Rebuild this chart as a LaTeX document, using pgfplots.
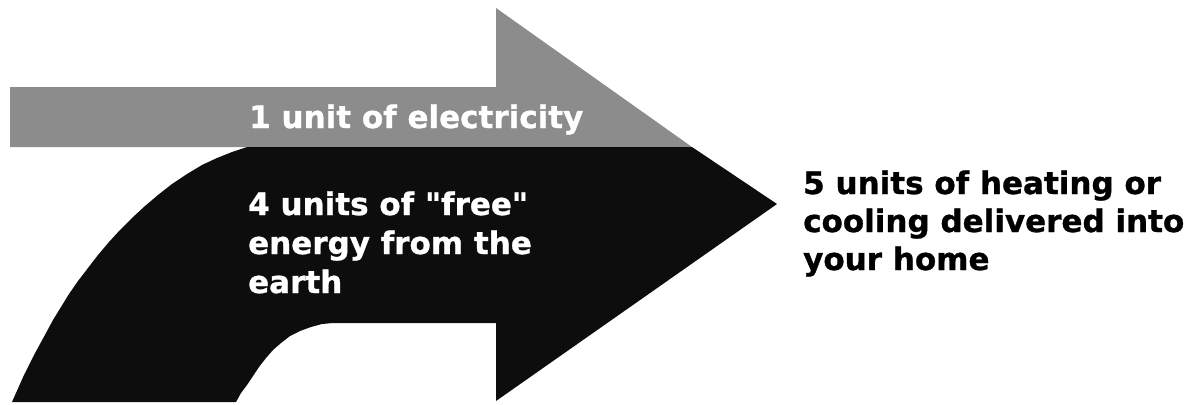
\documentclass[border=0pt]{standalone}
\usepackage{pgfplots}
\pgfplotsset{compat=1.18}
\usepackage{fontspec}
\setmainfont{DejaVu Sans}[BoldFeatures={FakeBold=1}]
\definecolor{arrowgray}{RGB}{140,140,140}
\definecolor{arrowblack}{RGB}{13,13,13}
\begin{document}
\begin{tikzpicture}
\begin{axis}[
  name=ax,
  width=1191bp, height=404bp, scale only axis,
  xmin=0, xmax=1191, ymin=0, ymax=404,
  y dir=reverse,
  hide axis,
]
% grey arrow (1 unit of electricity)
\addplot[fill=arrowgray, draw=none] coordinates {
  (10,87) (496,87) (496,8) (692,147) (10,147)
} -- cycle;
% black curved arrow (4 units from the earth)
\addplot[fill=arrowblack, draw=none] coordinates {
  (247,147) (692,147) (777,204) (496,401) (496,323) (333,323)
  (322,324) (311,327) (300,331) (290,336) (281,343) (273,350) (266,358)
  (259,367) (253,376) (247,385) (241,393) (236,402)
  (12,402)
  (16,393) (20,384) (24,375) (29,365) (34,355) (40,344) (46,333) (53,320)
  (61,307) (69,294) (78,281) (88,268) (98,255) (109,242) (120,230)
  (132,218) (145,206) (158,195) (172,184) (187,174) (202,165) (217,158)
  (232,152) (247,147)
} -- cycle;
\node[anchor=base west, text=white, font=\fontsize{31bp}{36bp}\selectfont\bfseries, inner sep=0pt]
  at (axis cs:249,128) {1 unit of electricity};
\node[anchor=base west, text=white, font=\fontsize{31bp}{36bp}\selectfont\bfseries, inner sep=0pt]
  at (axis cs:248,215) {4 units of \textquotedbl free\textquotedbl};
\node[anchor=base west, text=white, font=\fontsize{31bp}{36bp}\selectfont\bfseries, inner sep=0pt]
  at (axis cs:248,254) {energy from the};
\node[anchor=base west, text=white, font=\fontsize{31bp}{36bp}\selectfont\bfseries, inner sep=0pt]
  at (axis cs:248,293) {earth};
\node[anchor=base west, text=black, font=\fontsize{31bp}{36bp}\selectfont\bfseries, inner sep=0pt]
  at (axis cs:803,194) {5 units of heating or};
\node[anchor=base west, text=black, font=\fontsize{31bp}{36bp}\selectfont\bfseries, inner sep=0pt]
  at (axis cs:803,232) {cooling delivered into};
\node[anchor=base west, text=black, font=\fontsize{31bp}{36bp}\selectfont\bfseries, inner sep=0pt]
  at (axis cs:803,270) {your home};
\end{axis}
\pgfresetboundingbox
\path (ax.south west) rectangle (ax.north east);
\end{tikzpicture}
\end{document}
